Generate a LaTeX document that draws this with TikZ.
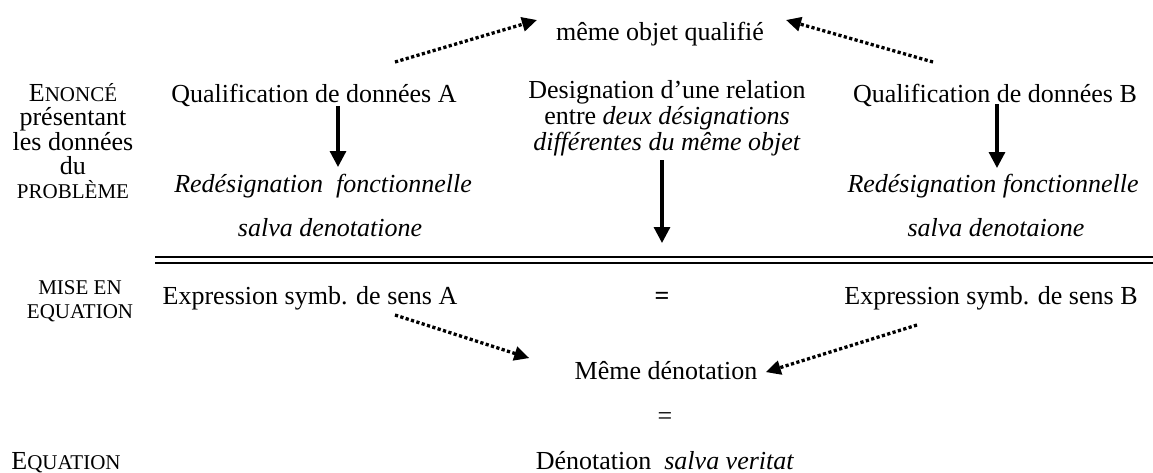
\documentclass[tikz,border=0pt]{standalone}
\usepackage{fontspec}
\setmainfont{Liberation Serif}
\usetikzlibrary{calc,arrows.meta}
\newcommand{\fsc}[1]{{\fontsize{10.5}{11.8}\selectfont #1}}

\begin{document}
\begin{tikzpicture}[x=0.5pt, y=-0.5pt,
	txt/.style={inner sep=0pt, font=\fontsize{13}{11.8}\selectfont, align=center, anchor=base},
	downarrow/.style={line width=1.6pt, -{Triangle[length=8pt, width=8pt]}},
	dotarrow/.style={line width=1.65pt, dash pattern=on 1.6pt off 1.2pt, -{Triangle[length=7.5pt, width=7pt]}}]
		%%%%% START %%%%%
		\useasboundingbox (0, 0) rectangle (1153, 472);
		
		\node[txt] (obj) at (660, 40) {même objet qualifié};
		
		% base = derniere ligne
		\node[txt] (enonce) at (73, 198) {E\fsc{NONCÉ}\\présentant\\les données\\du\\\fsc{PROBLÈME}};
		\node[txt] (qualA) at (314, 102) {Qualification de données A};
		\node[txt] (desig) at (667, 150) {Designation d’une relation\\entre \textit{deux désignations}\\\textit{différentes du même objet}};
		\node[txt] (qualB) at (995, 102) {Qualification de données B};
		
		\node[txt] (redesA) at (323, 192) {\textit{Redésignation\ \ fonctionnelle}};
		\node[txt] (salvaA) at (330, 236) {\textit{salva denotatione}};
		\node[txt] (redesB) at (993, 192) {\textit{Redésignation fonctionnelle}};
		\node[txt] (salvaB) at (996, 236) {\textit{salva denotaione}};
		
		\draw[line width=1.2pt] (155, 257) -- (1153, 257);
		\draw[line width=1.2pt] (155, 263) -- (1153, 263);
		
		\node[txt] (mise) at (80, 318) {\fsc{MISE EN}\\\fsc{EQUATION}};
		\node[txt] (exprA) at (310, 304) {Expression symb. de sens A};
		\node[txt] (egal) at (662, 304) {\textbf{=}};
		\node[txt] (exprB) at (991, 304) {Expression symb. de sens B};
		
		\node[txt] (memeden) at (666, 379) {Même dénotation};
		\node[txt] (egal2) at (665, 424) {=};
		
		\node[txt] (equ) at (66, 469) {E\fsc{QUATION}};
		\node[txt] (denot) at (665, 469) {Dénotation\ \ \textit{salva veritat}};
		
		% fleches pleines
		\draw[downarrow] ($(qualA.base)+(24, 4)$) -- ($(redesA.base)+(15, -25)$);
		\draw[downarrow] ($(desig.base)+(-5, 10)$) -- ($(egal.base)+(0, -61)$);
		\draw[downarrow] ($(qualB.base)+(2, 2)$) -- ($(redesB.base)+(4, -24)$);
		
		% fleches pointillees
		\draw[dotarrow] ($(qualA.base)+(81, -40)$) -- ($(obj.base)+(-123, -20)$);
		\draw[dotarrow] ($(qualB.base)+(-62, -40)$) -- ($(obj.base)+(126, -20)$);
		\draw[dotarrow] ($(exprA.base)+(85, 11)$) -- ($(memeden.west)+(-45, -12)$);
		\draw[dotarrow] ($(exprB.base)+(-74, 21)$) -- ($(memeden.east)+(8, 2)$);
		
		%%%%% END %%%%%
	\end{tikzpicture}
\end{document}
